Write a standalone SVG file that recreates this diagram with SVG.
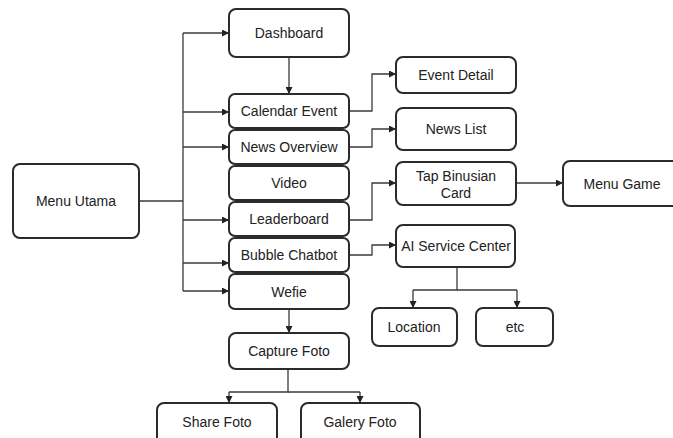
<svg xmlns="http://www.w3.org/2000/svg" width="673" height="438" viewBox="0 0 673 438">
<style>
.n rect{fill:#fff;stroke:#2b2b2b;stroke-width:2}
.n text{font-family:"Liberation Sans",Arial,sans-serif;font-size:14px;fill:#222;text-anchor:middle;dominant-baseline:central}
.c path{fill:none;stroke:#3a3a3a;stroke-width:1.3}
.a{marker-end:url(#ar)}
</style>
<defs>
<marker id="ar" viewBox="0 0 10 10" refX="10" refY="5" markerWidth="7" markerHeight="7" markerUnits="userSpaceOnUse" orient="auto">
<path d="M0,0 L10,5 L0,10 Z" fill="#222"/>
</marker>
</defs>
<rect width="673" height="438" fill="#fff"/>
<g class="c" id="connectors">
<path d="M139,201 H183"/>
<path d="M183,33 V291"/>
<path class="a" d="M183,33 H229"/>
<path class="a" d="M183,112 H229"/>
<path class="a" d="M183,147 H229"/>
<path class="a" d="M183,220 H229"/>
<path class="a" d="M183,263 H229"/>
<path class="a" d="M183,291 H229"/>
<path class="a" d="M289,57 V94"/>
<path class="a" d="M349,111 H372 V74 H396"/>
<path class="a" d="M349,147 H372 V129 H396"/>
<path class="a" d="M349,220 H372 V183 H396"/>
<path class="a" d="M516,183 H563"/>
<path class="a" d="M349,255 H372 V245 H396"/>
<path d="M457,267 V290 H413"/>
<path class="a" d="M413,290 V308"/>
<path d="M457,290 H517"/>
<path class="a" d="M517,290 V308"/>
<path class="a" d="M289,310 V333"/>
<path d="M288,370 V392 H229"/>
<path class="a" d="M229,392 V403"/>
<path d="M288,392 H360"/>
<path class="a" d="M360,392 V403"/>
</g>
<g class="n" id="menu-utama"><rect x="13" y="164" width="126" height="74" rx="7"/><text x="76" y="201">Menu Utama</text></g>
<g class="n" id="dashboard"><rect x="229" y="9" width="120" height="48" rx="7"/><text x="289" y="33">Dashboard</text></g>
<g class="n" id="calendar-event"><rect x="229" y="94" width="120" height="34" rx="6"/><text x="289" y="111">Calendar Event</text></g>
<g class="n" id="news-overview"><rect x="229" y="130" width="120" height="34" rx="6"/><text x="289" y="147">News Overview</text></g>
<g class="n" id="video"><rect x="229" y="166" width="120" height="34" rx="6"/><text x="289" y="183">Video</text></g>
<g class="n" id="leaderboard"><rect x="229" y="202" width="120" height="34" rx="6"/><text x="289" y="219">Leaderboard</text></g>
<g class="n" id="bubble-chatbot"><rect x="229" y="238" width="120" height="34" rx="6"/><text x="289" y="255">Bubble Chatbot</text></g>
<g class="n" id="wefie"><rect x="229" y="274" width="120" height="35" rx="6"/><text x="289" y="292">Wefie</text></g>
<g class="n" id="event-detail"><rect x="396" y="57" width="120" height="36" rx="7"/><text x="456" y="75">Event Detail</text></g>
<g class="n" id="news-list"><rect x="396" y="108" width="120" height="42" rx="7"/><text x="456" y="129">News List</text></g>
<g class="n" id="tap-binusian-card"><rect x="396" y="162" width="120" height="43" rx="7"/><text x="456" y="176">Tap Binusian</text><text x="456" y="193">Card</text></g>
<g class="n" id="menu-game"><rect x="563" y="161" width="120" height="45" rx="7"/><text x="622" y="184">Menu Game</text></g>
<g class="n" id="ai-service-center"><rect x="396" y="225" width="119" height="42" rx="7"/><text x="456" y="246">AI Service Center</text></g>
<g class="n" id="location"><rect x="372" y="308" width="85" height="38" rx="7"/><text x="414" y="327">Location</text></g>
<g class="n" id="etc"><rect x="476" y="308" width="77" height="38" rx="7"/><text x="515" y="327">etc</text></g>
<g class="n" id="capture-foto"><rect x="229" y="333" width="120" height="36" rx="7"/><text x="289" y="351">Capture Foto</text></g>
<g class="n" id="share-foto"><rect x="157" y="403" width="120" height="42" rx="7"/><text x="217" y="422">Share Foto</text></g>
<g class="n" id="galery-foto"><rect x="301" y="403" width="119" height="42" rx="7"/><text x="360" y="422">Galery Foto</text></g>
</svg>
